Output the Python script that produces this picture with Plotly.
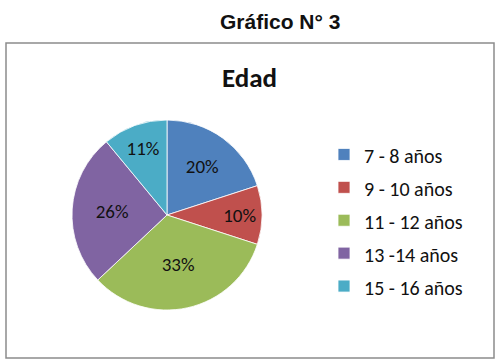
import plotly.graph_objects as go

categories = ["7 - 8 años", "9 - 10 años", "11 - 12 años", "13 -14 años", "15 - 16 años"]
values = [20, 10, 33, 26, 11]
colors = ["#4F81BD", "#C0504D", "#9BBB59", "#8064A2", "#4BACC6"]

W, H = 499, 362
FONT = "Carlito, Lato, sans-serif"

legend_labels = [f"<span style='font-size:20px'>{c}</span>" for c in categories]

fig = go.Figure(go.Pie(
    labels=legend_labels,
    values=values,
    sort=False,
    direction="clockwise",
    rotation=0,
    marker=dict(colors=colors, line=dict(color="white", width=0.8)),
    textinfo="percent",
    textposition="inside",
    insidetextorientation="horizontal",
    textfont=dict(family=FONT, size=19, color="#111"),
    domain=dict(x=[(167 - 95) / W, (167 + 95) / W], y=[(H - 215 - 95) / H, (H - 215 + 95) / H]),
    hoverinfo="label+percent",
))

fig.update_layout(
    width=W, height=H,
    margin=dict(l=0, r=0, t=0, b=0),
    paper_bgcolor="white",
    plot_bgcolor="white",
    showlegend=True,
    legend=dict(
        x=324 / W, y=1 - 133 / H, xanchor="left", yanchor="top",
        font=dict(family=FONT, size=23, color="#111"),
        tracegroupgap=0,
        itemwidth=30,
    ),
    shapes=[dict(
        type="rect", xref="paper", yref="paper",
        x0=6 / W, x1=494 / W, y0=1 - 358 / H, y1=1 - 43 / H,
        line=dict(color="#8c8c8c", width=1.5),
        fillcolor="rgba(0,0,0,0)",
    )],
    annotations=[
        dict(text="<b>Gráfico N° 3</b>", x=280 / W, y=1 - 22 / H,
             xref="paper", yref="paper", showarrow=False,
             xanchor="center", yanchor="middle",
             font=dict(family="Liberation Sans, Arial", size=21, color="#111")),
        dict(text="<b>Edad</b>", x=249 / W, y=1 - 77 / H,
             xref="paper", yref="paper", showarrow=False,
             xanchor="center", yanchor="middle",
             font=dict(family=FONT, size=27, color="#111")),
    ],
)

fig.write_html("out.html")
